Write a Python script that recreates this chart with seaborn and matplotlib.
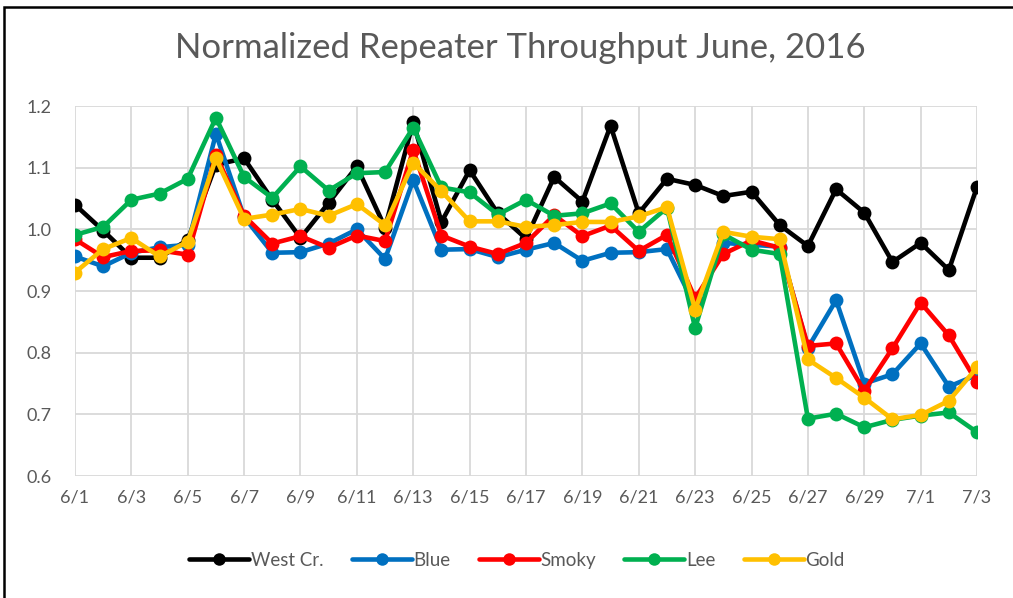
import pandas as pd
import matplotlib.pyplot as plt
import matplotlib.patches as mpatches
import seaborn as sns

# Daily labels, June 1 through July 3
days = ['6/1', '6/2', '6/3', '6/4', '6/5', '6/6', '6/7', '6/8', '6/9', '6/10',
        '6/11', '6/12', '6/13', '6/14', '6/15', '6/16', '6/17', '6/18', '6/19', '6/20',
        '6/21', '6/22', '6/23', '6/24', '6/25', '6/26', '6/27', '6/28', '6/29', '6/30',
        '7/1', '7/2', '7/3']

west_cr = [1.040, 0.998, 0.954, 0.954, 0.983, 1.105, 1.115, 1.048, 0.986, 1.043,
           1.102, 1.003, 1.174, 1.012, 1.096, 1.026, 0.985, 1.085, 1.045, 1.168,
           1.026, 1.082, 1.072, 1.054, 1.061, 1.007, 0.973, 1.065, 1.027, 0.947,
           0.978, 0.934, 1.069]
blue = [0.956, 0.940, 0.962, 0.971, 0.975, 1.155, 1.020, 0.962, 0.963, 0.977,
        1.000, 0.952, 1.080, 0.967, 0.968, 0.955, 0.967, 0.978, 0.949, 0.962,
        0.963, 0.968, 0.875, 0.978, 0.975, 0.972, 0.808, 0.885, 0.750, 0.765,
        0.815, 0.745, 0.764]
smoky = [0.984, 0.955, 0.965, 0.966, 0.959, 1.120, 1.022, 0.977, 0.989, 0.970,
         0.990, 0.981, 1.129, 0.990, 0.972, 0.960, 0.978, 1.023, 0.989, 1.006,
         0.965, 0.991, 0.888, 0.960, 0.982, 0.970, 0.811, 0.815, 0.738, 0.807,
         0.881, 0.828, 0.752]
lee = [0.991, 1.004, 1.048, 1.058, 1.082, 1.181, 1.085, 1.051, 1.102, 1.063,
       1.091, 1.093, 1.165, 1.068, 1.060, 1.024, 1.048, 1.022, 1.026, 1.042,
       0.996, 1.035, 0.840, 0.992, 0.967, 0.960, 0.693, 0.701, 0.679, 0.691,
       0.698, 0.703, 0.671]
gold = [0.930, 0.968, 0.986, 0.956, 0.980, 1.115, 1.017, 1.024, 1.033, 1.022,
        1.041, 1.007, 1.108, 1.062, 1.013, 1.013, 1.004, 1.007, 1.012, 1.012,
        1.021, 1.036, 0.870, 0.996, 0.988, 0.984, 0.789, 0.759, 0.727, 0.692,
        0.699, 0.722, 0.776]

series = {'West Cr.': west_cr, 'Blue': blue, 'Smoky': smoky, 'Lee': lee, 'Gold': gold}
colors = {'West Cr.': '#000000', 'Blue': '#0070C0', 'Smoky': '#FF0000',
          'Lee': '#00B050', 'Gold': '#FFC000'}

df = pd.DataFrame(series, index=days).reset_index(names='Day')
long_df = df.melt(id_vars='Day', var_name='Repeater', value_name='Throughput')

sns.set_style('white')
plt.rcParams['font.family'] = ['Lato', 'DejaVu Sans']
text_gray = '#595959'
grid_gray = '#d9d9d9'

fig = plt.figure(figsize=(10.13, 5.98), dpi=100)
ax = fig.add_axes([0.074, 0.204, 0.8905, 0.6187])

sns.lineplot(data=long_df, x='Day', y='Throughput', hue='Repeater',
             palette=colors, hue_order=list(series.keys()), sort=False,
             marker='o', markersize=10, markeredgewidth=0, linewidth=3.3,
             ax=ax, zorder=3)

ax.set_xlim(0, len(days) - 1)
ax.set_ylim(0.6, 1.2)
ax.set_xticks(range(0, len(days), 2))
ax.set_xticklabels(days[::2])
ax.set_yticks([0.6, 0.7, 0.8, 0.9, 1.0, 1.1, 1.2])
ax.set_yticklabels(['0.6', '0.7', '0.8', '0.9', '1.0', '1.1', '1.2'])
ax.grid(True, color=grid_gray, linewidth=1.3)
ax.set_axisbelow(True)
for s in ax.spines.values():
    s.set_visible(False)
ax.tick_params(axis='x', length=5, width=1.3, color=grid_gray, direction='out',
               labelsize=13, labelcolor=text_gray, pad=5)
ax.tick_params(axis='y', length=0, labelsize=13, labelcolor=text_gray, pad=17)
ax.set_xlabel('')
ax.set_ylabel('')

fig.suptitle('Normalized Repeater Throughput June, 2016', x=0.514, y=0.92,
             va='center', fontsize=25, color=text_gray)

handles, labels = ax.get_legend_handles_labels()
ax.legend(handles, labels, loc='center', bbox_to_anchor=(0.49, -0.228), ncol=5,
          frameon=False, handlelength=3.2, handletextpad=0.1, columnspacing=1.5,
          fontsize=13.5, labelcolor=text_gray, markerscale=0.9)

# chart area border (Excel style), partially cropped
fig.patches.append(mpatches.Rectangle((4 / 1013, -0.1), 1.1, 1 - 7 / 598 + 0.1,
                                      transform=fig.transFigure, fill=False,
                                      edgecolor='black', linewidth=1.8))

fig.savefig('out.png', dpi=100)
